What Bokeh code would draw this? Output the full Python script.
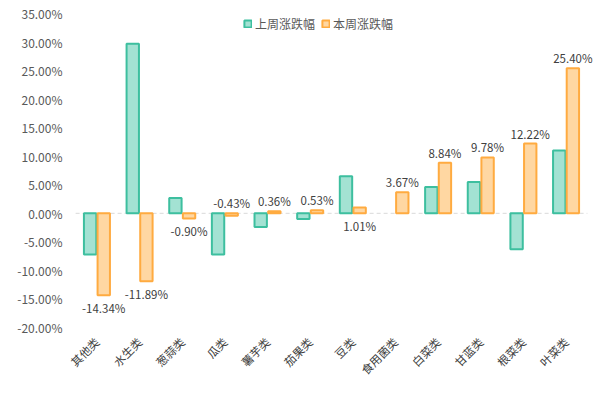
from bokeh.plotting import figure
from bokeh.models import (ColumnDataSource, FactorRange, LabelSet, Legend,
                          LegendItem, PrintfTickFormatter, FixedTicker)
from bokeh.transform import dodge
from bokeh.core.properties import value
from bokeh.embed import file_html
from bokeh.resources import INLINE
from math import pi

categories = ["其他类", "水生类", "葱蒜类", "瓜类", "薯芋类", "茄果类", "豆类",
              "食用菌类", "白菜类", "甘蓝类", "根菜类", "叶菜类"]
last_week = [-7.2, 29.7, 2.7, -7.2, -2.4, -1.0, 6.5, float("nan"), 4.6, 5.5, -6.3, 11.0]
this_week = [-14.34, -11.89, -0.90, -0.43, 0.36, 0.53, 1.01, 3.67, 8.84, 9.78, 12.22, 25.40]
label_side = ["below", "below", "below", "above", "above", "above", "below",
              "above", "above", "above", "above", "above"]
y_ticks = [-20, -15, -10, -5, 0, 5, 10, 15, 20, 25, 30, 35]
series_names = ["上周涨跌幅", "本周涨跌幅"]
Y_MIN, Y_MAX = -20, 35

# layout (pixels)
W, H = 599, 378
LEFT = 63
TOP_PX, BOT_PX = 13, 327          # pixel rows of Y_MAX and Y_MIN
PAD = 0.284                        # category range padding (absolute)
ppu = (BOT_PX - TOP_PX) / (Y_MAX - Y_MIN)
y_start = Y_MIN - (H - BOT_PX) / ppu
y_end = Y_MAX + TOP_PX / ppu

FONT = "Noto Sans CJK SC"
GREEN_LINE, GREEN_FILL = "#3dbf9f", "#a3e2d3"
ORANGE_LINE, ORANGE_FILL = "#ffab40", "#ffd7a2"

lab_y = [max(v, 0) if s == "above" else min(v, 0) for v, s in zip(this_week, label_side)]
lab_off = [10 if s == "above" else -13 for s in label_side]
lab_txt = ["%.2f%%" % v for v in this_week]

src = ColumnDataSource(dict(cat=categories, last=last_week, this=this_week,
                            lab_y=lab_y, lab_off=lab_off, lab_txt=lab_txt,
                            base=[Y_MIN] * len(categories)))
zero_src = ColumnDataSource(dict(c0=[categories[0]], c1=[categories[-1]], y=[0]))

p = figure(x_range=FactorRange(factors=categories, range_padding=PAD,
                               range_padding_units="absolute"),
           y_range=(y_start, y_end), width=W, height=H,
           output_backend="svg", toolbar_location=None,
           min_border_left=LEFT, min_border_right=0,
           min_border_top=0, min_border_bottom=0)
p.outline_line_color = None
p.grid.visible = False

p.segment(x0=dodge("c0", -0.5, range=p.x_range), x1=dodge("c1", 0.5, range=p.x_range),
          y0="y", y1="y", source=zero_src, line_color="#d9d9d9",
          line_width=1, line_dash="4 3")

r1 = p.vbar(x=dodge("cat", -0.16, range=p.x_range), top="last", width=0.29,
            source=src, fill_color=GREEN_FILL, line_color=GREEN_LINE, line_width=2)
r2 = p.vbar(x=dodge("cat", 0.16, range=p.x_range), top="this", width=0.29,
            source=src, fill_color=ORANGE_FILL, line_color=ORANGE_LINE, line_width=2)

labels = LabelSet(x=dodge("cat", 0.16, range=p.x_range), y="lab_y", y_offset="lab_off",
                  text="lab_txt", source=src, text_align="center",
                  text_baseline="middle", text_font=value(FONT), text_font_size="11.5px",
                  text_color="#404040")
p.add_layout(labels)

cat_labels = LabelSet(x="cat", y="base", y_offset=-12, text="cat", source=src,
                      angle=pi / 4, text_align="right", text_baseline="middle",
                      text_font=value(FONT), text_font_size="11.5px",
                      text_color="#404040")
p.add_layout(cat_labels)

ya = p.yaxis[0]
ya.ticker = FixedTicker(ticks=y_ticks)
ya.formatter = PrintfTickFormatter(format="%.2f%%")
ya.axis_line_color = None
ya.major_tick_line_color = None
ya.minor_tick_line_color = None
ya.major_tick_out = 0
ya.major_tick_in = 0
ya.minor_tick_out = 0
ya.major_label_standoff = 1
ya.major_label_text_font = FONT
ya.major_label_text_font_size = "12px"
ya.major_label_text_color = "#595959"

p.xaxis.visible = False

legend = Legend(items=[LegendItem(label=series_names[0], renderers=[r1]),
                       LegendItem(label=series_names[1], renderers=[r2])],
                location=(243 - LEFT, H - 32), orientation="horizontal",
                glyph_width=9, glyph_height=9, label_standoff=3, spacing=6,
                padding=0, margin=0, border_line_color=None,
                background_fill_alpha=0,
                label_text_font=FONT, label_text_font_size="12px",
                label_text_color="#595959", label_height=12)
p.add_layout(legend)

open("out.html", "w").write(file_html(p, INLINE))
